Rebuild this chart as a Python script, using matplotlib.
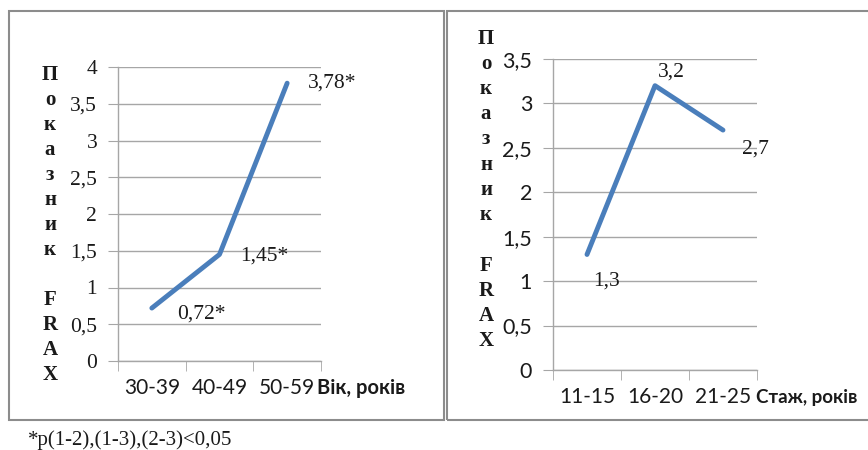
import matplotlib.pyplot as plt
from matplotlib.patches import Rectangle

# left panel: FRAX by age group
age_groups = ['30-39', '40-49', '50-59']
frax_age = [0.72, 1.45, 3.78]
age_labels = ['0,72*', '1,45*', '3,78*']
age_yticks = [0, 0.5, 1, 1.5, 2, 2.5, 3, 3.5, 4]
age_yticklabels = ['0', '0,5', '1', '1,5', '2', '2,5', '3', '3,5', '4']

# right panel: FRAX by work experience
exp_groups = ['11-15', '16-20', '21-25']
frax_exp = [1.3, 3.2, 2.7]
exp_labels = ['1,3', '3,2', '2,7']
exp_yticks = [0, 0.5, 1, 1.5, 2, 2.5, 3, 3.5]
exp_yticklabels = ['0', '0,5', '1', '1,5', '2', '2,5', '3', '3,5']

SERIF = ['Liberation Serif', 'DejaVu Serif']
SANS = ['Lato', 'Open Sans', 'DejaVu Sans']
LINE = '#4a7ebb'
GRID = '#a6a6a6'
INK = '#1a1a1a'
W, H = 868, 450

fig = plt.figure(figsize=(W / 100, H / 100), dpi=100)


def px(x0, y0, x1, y1):
    # pixel box (top-left origin) -> figure fraction rect
    return [x0 / W, 1 - y1 / H, (x1 - x0) / W, (y1 - y0) / H]


def style_axes(ax, cats, yticks, yticklabels, ytick_font):
    ax.set_xlim(-0.5, len(cats) - 0.5)
    ax.set_ylim(yticks[0], yticks[-1])
    ax.set_xticks(range(len(cats)))
    ax.set_xticklabels(cats, family=SANS, fontsize=15, color=INK)
    ax.set_xticks([i - 0.5 for i in range(len(cats) + 1)], minor=True)
    ax.tick_params(axis='x', which='major', length=0, pad=12)
    ax.tick_params(axis='x', which='minor', length=7, color=GRID, direction='out')
    ax.set_yticks(yticks)
    ax.set_yticklabels(yticklabels, family=ytick_font, fontsize=15.5, color=INK)
    ax.tick_params(axis='y', length=7, color=GRID, pad=8)
    ax.grid(axis='y', color=GRID, lw=1)
    ax.set_axisbelow(True)
    for s in ['top', 'right']:
        ax.spines[s].set_visible(False)
    for s in ['left', 'bottom']:
        ax.spines[s].set_color(GRID)
        ax.spines[s].set_linewidth(1)


# panel borders
fig.patches.append(Rectangle((9 / W, 1 - 420 / H), 435 / W, 409 / H, transform=fig.transFigure,
                             fill=False, edgecolor='#8c8c8c', lw=1.5))
fig.patches.append(Rectangle((447 / W, 1 - 420 / H), 430 / W, 409 / H, transform=fig.transFigure,
                             fill=False, edgecolor='#8c8c8c', lw=1.5))

ylabel = 'П\nо\nк\nа\nз\nн\nи\nк\n\nF\nR\nA\nX'

# --- left chart ---
ax1 = fig.add_axes(px(118, 67, 321, 361))
style_axes(ax1, age_groups, age_yticks, age_yticklabels, SERIF)
ax1.plot(range(len(frax_age)), frax_age, color=LINE, lw=3.5, solid_capstyle='round')
offsets1 = [(18, -4), (15, -1), (15, 0)]
for i, (v, lab) in enumerate(zip(frax_age, age_labels)):
    ax1.annotate(lab, (i, v), xytext=offsets1[i], textcoords='offset points',
                 ha='left', va='center', family=SERIF, fontsize=15.5, color=INK)
fig.text(317 / W, 1 - 388 / H, 'Вік, років', family=SANS, fontsize=14.5, fontweight='bold',
         ha='left', va='center', color=INK)
fig.text(50 / W, 1 - 225 / H, ylabel, family=SERIF,
         fontsize=15, fontweight='bold', ha='center', va='center', linespacing=1.33,
         color=INK)

# --- right chart ---
ax2 = fig.add_axes(px(553, 59, 757, 370))
style_axes(ax2, exp_groups, exp_yticks, exp_yticklabels, SANS)
ax2.plot(range(len(frax_exp)), frax_exp, color=LINE, lw=3.5, solid_capstyle='round')
offsets2 = [(14, -19), (12, 10), (23, -14)]
for i, (v, lab) in enumerate(zip(frax_exp, exp_labels)):
    ax2.annotate(lab, (i, v), xytext=offsets2[i], textcoords='offset points',
                 ha='center', va='center', family=SERIF, fontsize=15.5, color=INK)
fig.text(756 / W, 1 - 397 / H, 'Стаж, років', family=SANS, fontsize=13.5, fontweight='bold',
         ha='left', va='center', color=INK)
fig.text(486 / W, 1 - 190 / H, ylabel, family=SERIF,
         fontsize=15, fontweight='bold', ha='center', va='center', linespacing=1.35,
         color=INK)

# footnote
fig.text(28 / W, 1 - 440 / H, '*p(1-2),(1-3),(2-3)<0,05', family=SERIF, fontsize=15,
         ha='left', va='center', color=INK)

fig.savefig('out.png', dpi=100)
